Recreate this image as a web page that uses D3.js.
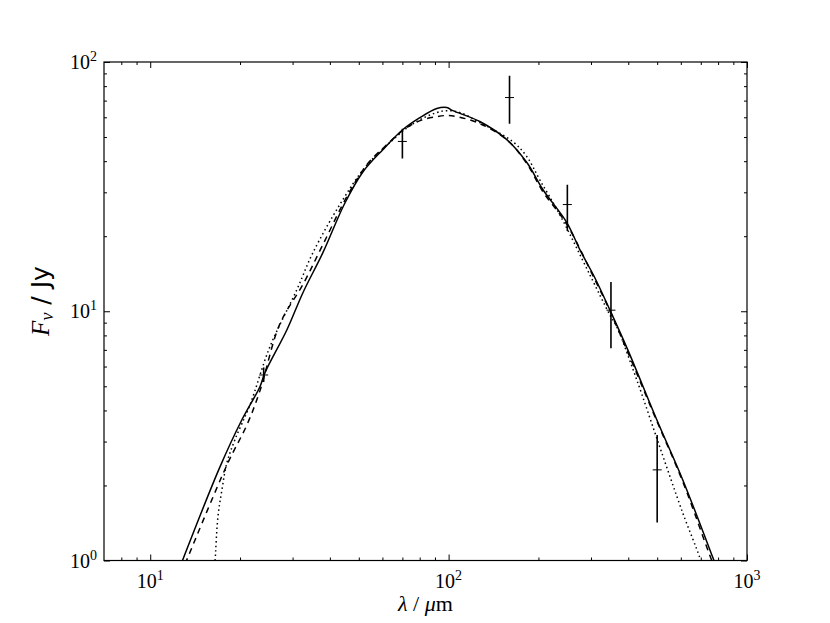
<!DOCTYPE html>
<html>
<head>
<meta charset="utf-8">
<script src="https://cdn.jsdelivr.net/npm/d3@7"></script>
<style>
  body { margin: 0; background: #fff; }
  svg { display: block; }
</style>
</head>
<body>
<div id="chart"></div>
<script>
// model curves, wavelength (um) and flux (Jy)
const solidWave = [12.7, 17.13, 20.29, 23.32, 24.23, 28.72, 32.49, 37.9, 44.8, 51.6, 60.2, 70.3, 80.1, 91.3, 98.6, 103.3, 127.2, 156.7, 182.9, 206.9, 249, 275.3, 309, 346.9, 398.6, 498.5, 609.3, 767.7, 785]
const solidFlux = [0.97, 2.375, 3.67, 4.98, 5.66, 8.43, 11.87, 17.18, 27.0, 36.2, 44.5, 53.6, 59.8, 65.1, 65.7, 63.8, 57.7, 48.8, 39.5, 30.8, 22.7, 17.66, 13.63, 10.14, 7.0, 3.67, 2.105, 1.03, 0.96]

const dashWave = [13.1, 18.21, 21.09, 23.32, 27.2, 32.49, 37.9, 45.6, 53.2, 62.1, 72.4, 82, 91.3, 98.6, 106.6, 127.2, 156.7, 182.9, 206.9, 249, 309, 346.9, 498.5, 609.3, 762, 780]
const dashFlux = [0.97, 2.465, 3.5, 4.8, 8.9, 12.8, 18.5, 28.8, 38.7, 46.6, 54.6, 58.7, 60.4, 61.0, 60.4, 56.6, 48.8, 39.1, 30.2, 22.3, 13.4, 10.05, 3.63, 2.07, 1.0, 0.94]

const dotWave = [16.45, 16.5, 16.86, 17.39, 18.07, 19.22, 21.59, 25.18, 31.0, 35.1, 43.2, 52.4, 63.5, 77.1, 91.3, 98.6, 109, 127.2, 164.1, 182.9, 202, 235.9, 297.2, 346.9, 366, 427, 510, 609.3, 694, 705]
const dotFlux = [0.96, 1.0, 1.495, 1.92, 2.465, 3.05, 4.21, 7.2, 12.2, 17.18, 26.8, 37.7, 47.5, 57.2, 62.7, 63.8, 62.7, 57.2, 47.9, 41.7, 33.7, 24.4, 14.02, 9.68, 8.66, 5.31, 2.856, 1.55, 1.03, 0.96]

// photometry with error bars
const obsWave = [24, 70, 160, 250, 350, 500]
const obsFlux = [5.55, 48, 72, 26.8, 10.1, 2.31]
const obsLow  = [5.2, 41, 56.5, 21, 7.1, 1.42]
const obsHigh = [5.95, 54, 88, 32.2, 13.1, 3.19]

const xMajor = [10, 100, 1000]
const xExp = ["1", "2", "3"]
const yMajor = [1, 10, 100]
const yExp = ["0", "1", "2"]

const W = 830, H = 623
const margin = {top: 62, right: 83, bottom: 62.5, left: 104}
const width = W - margin.left - margin.right
const height = H - margin.top - margin.bottom

const svg = d3.select("#chart").append("svg")
    .attr("width", W)
    .attr("height", H)

const g = svg.append("g")
    .attr("transform", "translate(" + margin.left + "," + margin.top + ")")

const x = d3.scaleLog().domain([7, 1000]).range([0, width])
const y = d3.scaleLog().domain([1, 100]).range([height, 0])

g.append("defs").append("clipPath").attr("id", "clip")
    .append("rect").attr("width", width).attr("height", height)

function minors(lo, hi) {
    let out = []
    for (let d = 1; d < 1000; d *= 10) {
        for (let k = 2; k <= 9; k++) {
            let v = k * d
            if (v > lo && v < hi) out.push(v)
        }
    }
    return out
}
const xMinor = minors(7, 1000)
const yMinor = minors(1, 100)

// curves
const plot = g.append("g").attr("clip-path", "url(#clip)")

function drawCurve(wave, flux, dash) {
    const pts = wave.map((w, i) => [w, flux[i]])
    plot.append("path")
        .datum(pts)
        .attr("fill", "none")
        .attr("stroke", "#000")
        .attr("stroke-width", 1.5)
        .attr("stroke-dasharray", dash)
        .attr("d", d3.line().x(d => x(d[0])).y(d => y(d[1])).curve(d3.curveCatmullRom.alpha(0.5)))
}
drawCurve(solidWave, solidFlux, null)
drawCurve(dashWave, dashFlux, "6,5")
drawCurve(dotWave, dotFlux, "1.5,3")

// error bars
obsWave.forEach((w, i) => {
    plot.append("line")
        .attr("x1", x(w)).attr("x2", x(w))
        .attr("y1", y(obsLow[i])).attr("y2", y(obsHigh[i]))
        .attr("stroke", "#000").attr("stroke-width", 1.6)
    plot.append("line")
        .attr("x1", x(w) - 4.5).attr("x2", x(w) + 4.5)
        .attr("y1", y(obsFlux[i])).attr("y2", y(obsFlux[i]))
        .attr("stroke", "#000").attr("stroke-width", 1)
})

// axes, ticks pointing inward on all four sides
function tickAxis(axisFn, scale, major, minor, transform) {
    const a1 = g.append("g").attr("transform", transform)
        .call(axisFn(scale).tickValues(major).tickSize(-6).tickFormat(""))
    const a2 = g.append("g").attr("transform", transform)
        .call(axisFn(scale).tickValues(minor).tickSize(-3).tickFormat(""))
    ;[a1, a2].forEach(a => {
        a.select(".domain").remove()
        a.selectAll("line").attr("stroke", "#000").attr("stroke-width", 1)
    })
}
tickAxis(d3.axisBottom, x, xMajor, xMinor, "translate(0," + height + ")")
tickAxis(d3.axisTop, x, xMajor, xMinor, "translate(0,0)")
tickAxis(d3.axisLeft, y, yMajor, yMinor, "translate(0,0)")
tickAxis(d3.axisRight, y, yMajor, yMinor, "translate(" + width + ",0)")

g.append("rect")
    .attr("width", width).attr("height", height)
    .attr("fill", "none").attr("stroke", "#000").attr("stroke-width", 1.2)

const serif = "'Liberation Serif', 'DejaVu Serif', serif"

// tick labels
xMajor.forEach((v, i) => {
    const t = g.append("text")
        .attr("x", x(v)).attr("y", height + 27)
        .attr("text-anchor", "middle")
        .style("font-family", serif).style("font-size", "20px")
    t.append("tspan").text("10")
    t.append("tspan").attr("dy", -8).style("font-size", "14px").text(xExp[i])
})
yMajor.forEach((v, i) => {
    const t = g.append("text")
        .attr("x", -7).attr("y", y(v) + 7)
        .attr("text-anchor", "end")
        .style("font-family", serif).style("font-size", "20px")
    t.append("tspan").text("10")
    t.append("tspan").attr("dy", -8).style("font-size", "14px").text(yExp[i])
})

// axis labels
const xl = svg.append("text")
    .attr("x", margin.left + width / 2).attr("y", 611)
    .attr("text-anchor", "middle")
    .style("font-family", serif).style("font-size", "22px")
xl.append("tspan").style("font-style", "italic").text("λ")
xl.append("tspan").text(" / ")
xl.append("tspan").style("font-style", "italic").text("μ")
xl.append("tspan").text("m")

const yl = svg.append("text")
    .attr("transform", "translate(49,301) rotate(-90)")
    .attr("text-anchor", "middle")
    .style("font-size", "25px")
yl.append("tspan").style("font-family", serif).style("font-style", "italic").text("F")
yl.append("tspan").attr("dy", 4).style("font-family", serif).style("font-style", "italic").style("font-size", "18px").text("ν")
yl.append("tspan").attr("dy", -4).style("font-family", "'DejaVu Sans', sans-serif").text(" / Jy")
</script>
</body>
</html>
